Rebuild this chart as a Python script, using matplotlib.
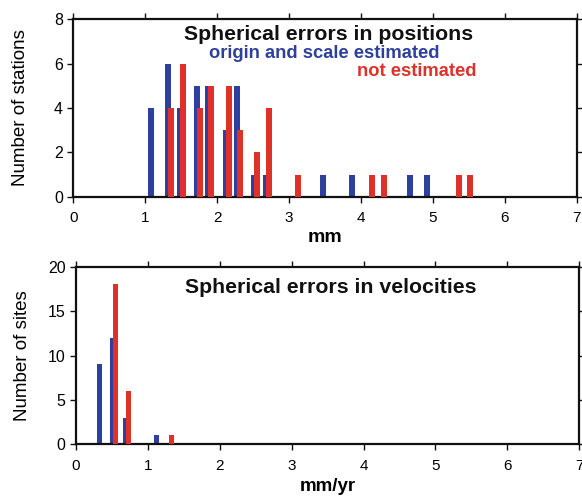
import matplotlib
matplotlib.use("Agg")
import matplotlib.pyplot as plt

plt.rcParams['font.family'] = ['Liberation Sans', 'DejaVu Sans']

# Positions histogram (mm)
pos_blue_x = [1.076, 1.317, 1.484, 1.720, 1.873, 2.124, 2.277, 2.513, 2.680,
              3.473, 3.876, 4.683, 4.919]
pos_blue_n = [4, 6, 4, 5, 5, 3, 5, 1, 1, 1, 1, 1, 1]
pos_red_x = [1.354, 1.521, 1.758, 1.911, 2.161, 2.314, 2.550, 2.717, 3.125,
             4.155, 4.321, 5.364, 5.513]
pos_red_n = [4, 6, 4, 5, 5, 3, 2, 4, 1, 1, 1, 1, 1]

# Velocities histogram (mm/yr)
vel_blue_x = [0.325, 0.508, 0.688, 1.12]
vel_blue_n = [9, 12, 3, 1]
vel_red_x = [0.549, 0.728, 1.328]
vel_red_n = [18, 6, 1]

BLUE = '#2E409E'
RED = '#E0302A'

fig = plt.figure(figsize=(5.82, 4.96), dpi=100)
ax1 = fig.add_axes([73.3/582, 1-196.7/496, 503.4/582, 177.4/496])
ax2 = fig.add_axes([76.0/582, 1-444.3/496, 503.3/582, 177.6/496])

def style(ax):
    for s in ax.spines.values():
        s.set_linewidth(1.6)
        s.set_color('#111111')
    ax.tick_params(direction='out', length=4.5, width=1.0, color='#111111',
                   top=True, right=True, labeltop=False, labelright=False)
    ax.tick_params(axis='y', labelsize=11.5, pad=3)
    ax.tick_params(axis='x', labelsize=11, pad=6)

ax1.bar(pos_blue_x, pos_blue_n, width=0.083, color=BLUE, linewidth=0, zorder=2)
ax1.bar(pos_red_x, pos_red_n, width=0.083, color=RED, linewidth=0, zorder=3)
ax1.set_xlim(0, 7)
ax1.set_ylim(0, 8)
ax1.set_xticks(range(0, 8))
ax1.set_yticks([0, 2, 4, 6, 8])
style(ax1)
ax1.set_xlabel('mm', fontsize=14, fontweight='bold', labelpad=3)
ax1.set_ylabel('Number of stations', fontsize=13.5, labelpad=18)
ax1.text(0.507, 0.912, 'Spherical errors in positions', transform=ax1.transAxes,
         ha='center', va='center', fontsize=15.3, fontweight='bold', color='#111111')
ax1.text(0.498, 0.808, 'origin and scale estimated', transform=ax1.transAxes,
         ha='center', va='center', fontsize=13.2, fontweight='bold', color=BLUE)
ax1.text(0.683, 0.703, 'not estimated', transform=ax1.transAxes,
         ha='center', va='center', fontsize=13.2, fontweight='bold', color=RED)

ax2.bar(vel_blue_x, vel_blue_n, width=0.07, color=BLUE, linewidth=0, zorder=2)
ax2.bar(vel_red_x, vel_red_n, width=0.07, color=RED, linewidth=0, zorder=3)
ax2.set_xlim(0, 7)
ax2.set_ylim(0, 20)
ax2.set_xticks(range(0, 8))
ax2.set_yticks([0, 5, 10, 15, 20])
style(ax2)
ax2.set_xlabel('mm/yr', fontsize=13.5, fontweight='bold', labelpad=4)
ax2.set_ylabel('Number of sites', fontsize=13.5, labelpad=12)
ax2.text(0.507, 0.885, 'Spherical errors in velocities', transform=ax2.transAxes,
         ha='center', va='center', fontsize=15.3, fontweight='bold', color='#111111')

fig.savefig('out.png', dpi=100)
